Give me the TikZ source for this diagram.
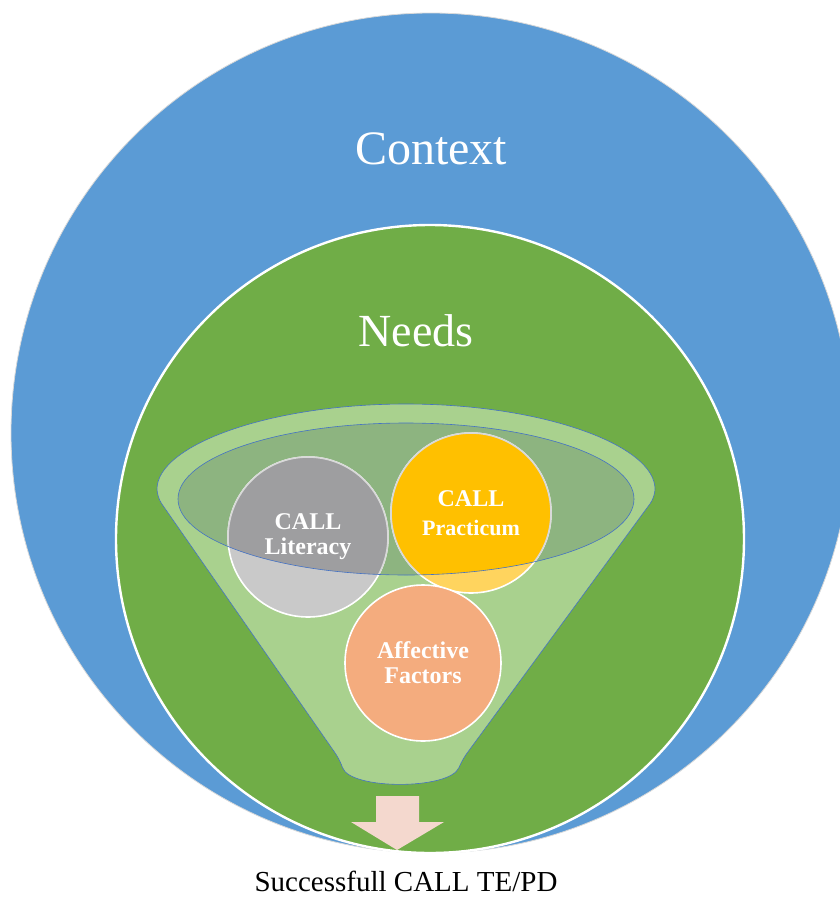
\documentclass[tikz,border=0pt]{standalone}
\usepackage{fontspec}
\setmainfont{Liberation Serif}
\usepackage{tikz}
\usetikzlibrary{positioning}
\definecolor{ctxblue}{RGB}{91,155,213}
\definecolor{needgreen}{RGB}{112,173,71}
\definecolor{funnelgreen}{RGB}{169,209,142}
\definecolor{rimgreen}{RGB}{141,180,128}
\definecolor{rimblue}{RGB}{68,114,196}
\definecolor{litgray}{RGB}{201,201,201}
\definecolor{litgraydark}{RGB}{158,158,160}
\definecolor{pracgold}{RGB}{255,212,94}
\definecolor{pracgolddark}{RGB}{255,192,0}
\definecolor{affsalmon}{RGB}{244,172,126}
\definecolor{arrowpink}{RGB}{244,216,206}
\tikzset{
    bigtitle/.style={text=white, anchor=base, font=\fontsize{48}{52}\selectfont},
    bubble/.style={circle, draw=white, line width=1.6pt, minimum size=160pt, inner sep=0pt},
    bubbletext/.style={text=white, align=center, font=\bfseries\fontsize{24}{25}\selectfont},
    rim/.style={draw=rimblue, line width=0.6pt}
}

\begin{document}
\begin{tikzpicture}[x=1pt, y=-1pt]
    \useasboundingbox (0,0) rectangle (840,900);
    % context and needs rings
    \filldraw[fill=ctxblue, draw=black!15, line width=0.8pt] (431,433) circle (420);
    \filldraw[fill=needgreen, draw=white, line width=2.4pt] (430,539) circle (314);
    \node[bigtitle] (context) at (431,164) {Context};
    \node[bigtitle, font=\fontsize{46}{50}\selectfont] (needs) at (416,346) {Needs};
    % funnel
    \filldraw[rim, fill=funnelgreen, rounded corners=8pt]
        (157,497) arc[start angle=180, end angle=360, x radius=249, y radius=93]
        -- (462,760) .. controls (450,790) and (350,790) .. (340,760) -- cycle;
    \fill[rimgreen] (406,499) ellipse[x radius=228, y radius=76];
    \node[bubble, fill=litgray] (literacy) at (308,537) {};
    \node[bubble, fill=pracgold] (practicum) at (471,513) {};
    \node[bubble, fill=affsalmon, minimum size=156pt] (affective) at (423,663) {};
    \begin{scope}
        \clip (406,499) ellipse[x radius=228, y radius=76];
        \filldraw[fill=litgraydark, draw=white!85!black, line width=1.6pt] (literacy.center) circle (80);
        \filldraw[fill=pracgolddark, draw=white!85!black, line width=1.6pt] (practicum.center) circle (80);
    \end{scope}
    \draw[rim] (406,499) ellipse[x radius=228, y radius=76];
    \node[bubbletext] (littext) at (literacy.center) {CALL\\Literacy};
    \node[bubbletext] (practext) at (practicum.center) {CALL\\[4pt]{\fontsize{22}{24}\selectfont Practicum}};
    \node[bubbletext] (afftext) at (affective.center) {Affective\\Factors};
    % outcome arrow
    \fill[arrowpink] (376,796) -- (419,796) -- (419,822) -- (444,822)
        -- (397,850) -- (351,822) -- (376,822) -- cycle;
    \node[anchor=base, font=\fontsize{29}{32}\selectfont] (outcome) at (406,891) {Successfull CALL TE/PD};
\end{tikzpicture}
\end{document}
